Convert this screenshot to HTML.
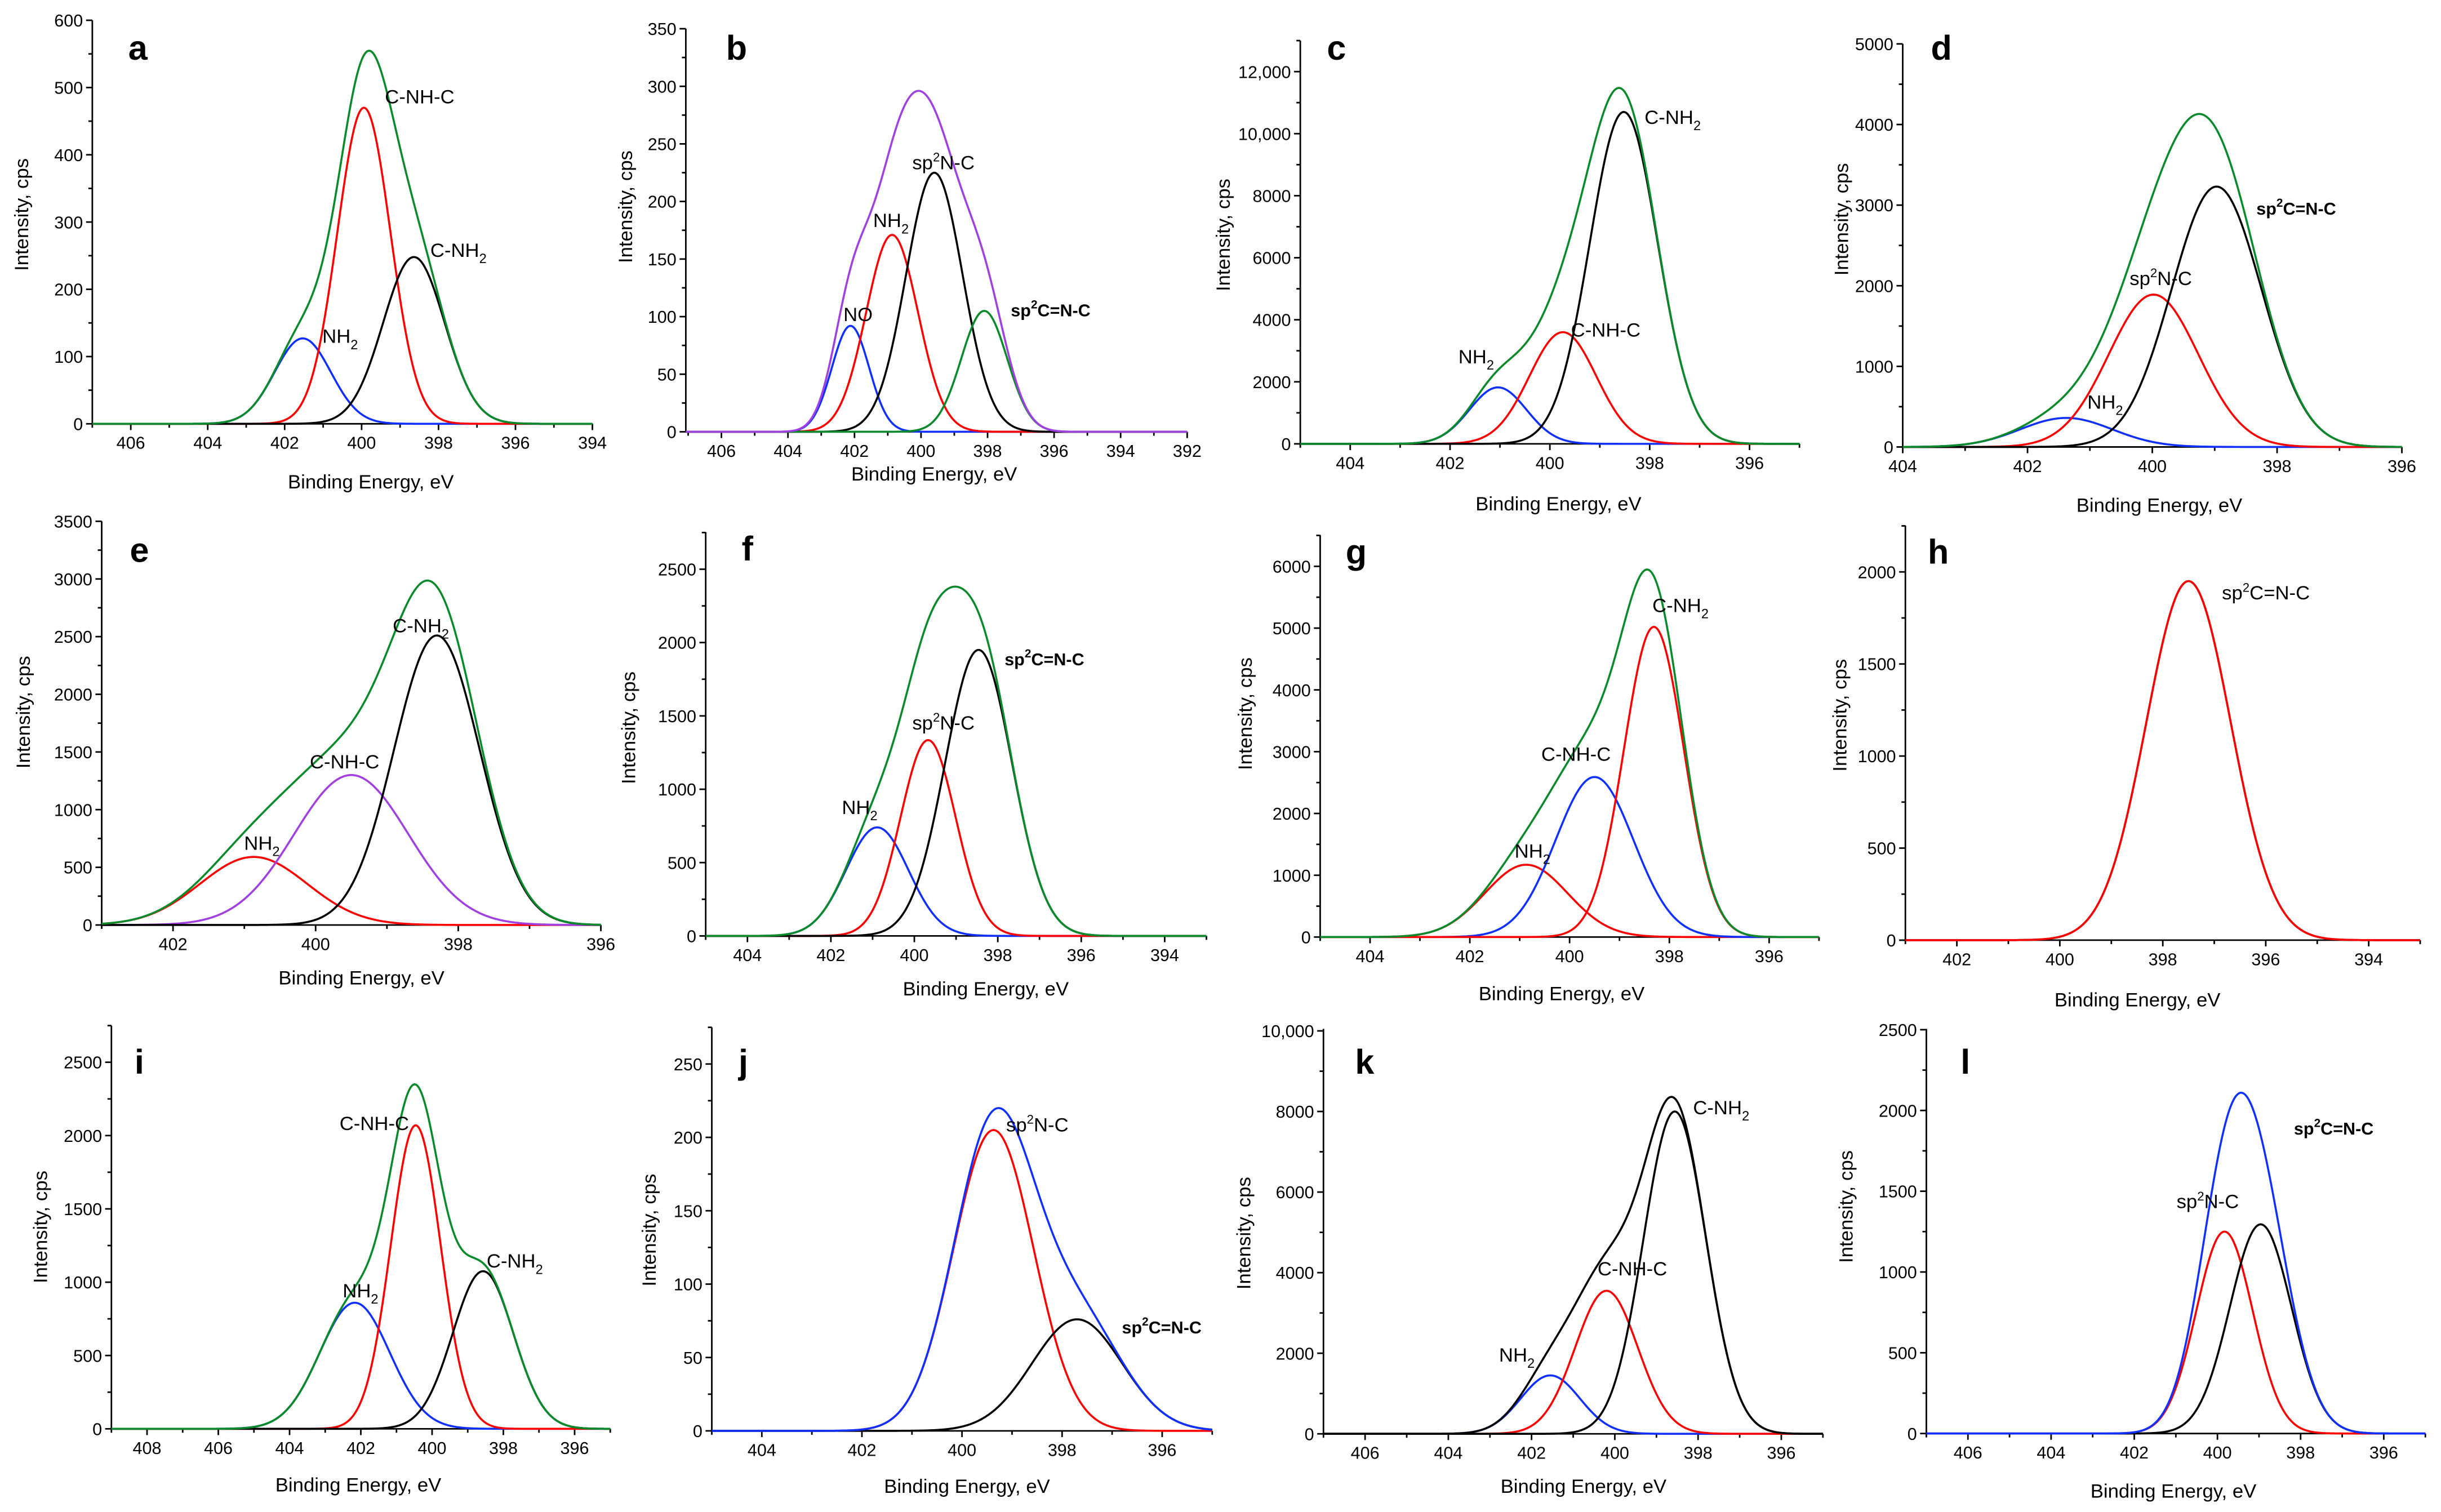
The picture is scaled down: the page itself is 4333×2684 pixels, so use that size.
<!DOCTYPE html>
<html><head><meta charset="utf-8"><style>
html,body{margin:0;padding:0;background:#fff;}
svg{display:block;}
text{font-family:"Liberation Sans",Arial,sans-serif;fill:#000;}
</style></head><body>
<svg id="fig" xmlns="http://www.w3.org/2000/svg" width="4333" height="2684" viewBox="0 0 1560 966"></svg>
<script>
// ---- data: peak centers (eV), heights (cps), sigmas (eV) ----
const aCenters=[401.53,399.94,398.64]; const aHeights=[127,470,248]; const aSigmas=[0.73,0.69,0.8];
const bCenters=[402.12,400.87,399.6,398.1]; const bHeights=[92,171,225,105]; const bSigmas=[0.56,0.78,0.85,0.69];
const cCenters=[401.04,399.74,398.52]; const cHeights=[1820,3600,10700]; const cSigmas=[0.57,0.67,0.68];
const dCenters=[401.38,399.98,398.97]; const dHeights=[360,1890,3230]; const dSigmas=[0.74,0.72,0.72];
const eCenters=[400.87,399.5,398.3]; const eHeights=[590,1300,2510]; const eSigmas=[0.75,0.8,0.6];
const fCenters=[400.89,399.67,398.46]; const fHeights=[740,1335,1950]; const fSigmas=[0.75,0.66,0.8];
const gCenters=[400.87,399.5,398.31]; const gHeights=[1170,2590,5020]; const gSigmas=[0.83,0.78,0.6];
const hCenters=[397.5]; const hHeights=[1950]; const hSigmas=[0.82];
const iCenters=[402.17,400.46,398.57]; const iHeights=[860,2070,1075]; const iSigmas=[0.98,0.7,0.85];
const jCenters=[399.37,397.7]; const jHeights=[205,76]; const jSigmas=[0.8,0.9];
const kCenters=[401.55,400.2,398.56]; const kHeights=[1450,3550,8000]; const kSigmas=[0.71,0.75,0.75];
const lCenters=[399.83,398.96]; const lHeights=[1250,1295]; const lSigmas=[0.68,0.74];
// tick label arrays
const xTicksA=[406,404,402,400,398,396,394];
const xTicksB=[406,404,402,400,398,396,394,392];
const xTicksC=[404,402,400,398,396];
const xTicksD=[404,402,400,398,396];
const xTicksE=[402,400,398,396];
const xTicksF=[404,402,400,398,396,394];
const xTicksG=[404,402,400,398,396];
const xTicksH=[402,400,398,396,394];
const xTicksI=[408,406,404,402,400,398,396];
const xTicksJ=[404,402,400,398,396];
const xTicksK=[406,404,402,400,398,396];
const xTicksL=[406,404,402,400,398,396];
const yTicksA=[0,100,200,300,400,500,600];
const yTicksB=[0,50,100,150,200,250,300,350];
const yTicksC=[0,2000,4000,6000,8000,10000,12000];
const yTicksD=[0,1000,2000,3000,4000,5000];
const yTicksE=[0,500,1000,1500,2000,2500,3000,3500];
const yTicksF=[0,500,1000,1500,2000,2500];
const yTicksG=[0,1000,2000,3000,4000,5000,6000];
const yTicksH=[0,500,1000,1500,2000];
const yTicksI=[0,500,1000,1500,2000,2500];
const yTicksJ=[0,50,100,150,200,250];
const yTicksK=[0,2000,4000,6000,8000,10000];
const yTicksL=[0,500,1000,1500,2000,2500];

const RED='#ff0000',BLUE='#1030ff',GREEN='#0a8a2a',PURPLE='#a040e0',BLACK='#000';
const panels=[
 {id:'a',L:59,R:378.6,T:12.8,B:270.7,x0:407,x1:394,ymax:600,xs:xTicksA,ys:yTicksA,ymin:50,c:aCenters,h:aHeights,s:aSigmas,cols:[BLUE,RED,BLACK],env:GREEN,
  labels:[['C-NH-C',246,66],['C-NH2',275,164],['NH2',206,219]],letter:[82,38],yt:[18,137],xt:[237,312],comma:true},
 {id:'b',L:438.3,R:758.7,T:18.2,B:275.8,x0:407.07,x1:392,ymax:350,xs:xTicksB,ys:yTicksB,ymin:25,c:bCenters,h:bHeights,s:bSigmas,cols:[BLUE,RED,BLACK,GREEN],env:PURPLE,
  labels:[['NO',539,205],['NH2',558,145],['sp2N-C',583,108],['sp2C=N-C',646,202,1]],letter:[464,38],yt:[404,132],xt:[597,307]},
 {id:'c',L:831,R:1150,T:25.8,B:283.5,x0:405,x1:395,ymax:13000,xs:xTicksC,ys:yTicksC,ymin:1000,c:cCenters,h:cHeights,s:cSigmas,cols:[BLUE,RED,BLACK],env:GREEN,
  labels:[['C-NH2',1051,79],['C-NH-C',1004,215],['NH2',932,232]],letter:[848,38],yt:[786,150],xt:[996,326],comma:true},
 {id:'d',L:1216,R:1535,T:27.9,B:285.5,x0:404,x1:396,ymax:5000,xs:xTicksD,ys:yTicksD,ymin:500,c:dCenters,h:dHeights,s:dSigmas,cols:[BLUE,RED,BLACK],env:GREEN,
  labels:[['sp2C=N-C',1442,137,1],['sp2N-C',1361,182],['NH2',1334,261]],letter:[1234,38],yt:[1181,140],xt:[1380,327]},
 {id:'e',L:65,R:384,T:333,B:591,x0:403,x1:396,ymax:3500,xs:xTicksE,ys:yTicksE,ymin:250,c:eCenters,h:eHeights,s:eSigmas,cols:[RED,PURPLE,BLACK],env:GREEN,
  labels:[['C-NH2',251,404],['C-NH-C',198,491],['NH2',156,543]],letter:[83,359],yt:[19,455],xt:[231,629]},
 {id:'f',L:451,R:771,T:340,B:598,x0:405,x1:393,ymax:2752,xs:xTicksF,ys:yTicksF,ymin:250,c:fCenters,h:fHeights,s:fSigmas,cols:[BLUE,RED,BLACK],env:GREEN,
  labels:[['sp2C=N-C',642,425,1],['sp2N-C',583,466],['NH2',538,520]],letter:[474,358],yt:[406,465],xt:[630,636]},
 {id:'g',L:843.7,R:1162.5,T:341.8,B:598.7,x0:405,x1:395,ymax:6506,xs:xTicksG,ys:yTicksG,ymin:500,c:gCenters,h:gHeights,s:gSigmas,cols:[RED,BLUE,RED],env:GREEN,
  labels:[['C-NH2',1056,391],['C-NH-C',985,486],['NH2',968,548]],letter:[860,360],yt:[800,456],xt:[998,639]},
 {id:'h',L:1217.7,R:1546.7,T:335.7,B:600.7,x0:403,x1:393,ymax:2252,xs:xTicksH,ys:yTicksH,ymin:250,c:hCenters,h:hHeights,s:hSigmas,cols:[RED],env:BLACK,envUnder:true,
  labels:[['sp2C=N-C',1420,383]],letter:[1232,360],yt:[1180,457],xt:[1366,643]},
 {id:'i',L:71.2,R:390,T:655.3,B:913,x0:409,x1:395,ymax:2750,xs:xTicksI,ys:yTicksI,ymin:250,c:iCenters,h:iHeights,s:iSigmas,cols:[BLUE,RED,BLACK],env:GREEN,
  labels:[['C-NH-C',217,722],['C-NH2',311,810],['NH2',219,829]],letter:[86,686],yt:[30,784],xt:[229,953]},
 {id:'j',L:454.9,R:774.7,T:656.4,B:914.3,x0:405,x1:395,ymax:275,xs:xTicksJ,ys:yTicksJ,ymin:25,c:jCenters,h:jHeights,s:jSigmas,cols:[RED,BLACK],env:BLUE,
  labels:[['sp2N-C',643,723],['sp2C=N-C',717,852,1]],letter:[472,686],yt:[419,786],xt:[618,954]},
 {id:'k',L:845.8,R:1165,T:657.4,B:916.2,x0:407,x1:395,ymax:10050,xs:xTicksK,ys:yTicksK,ymin:1000,c:kCenters,h:kHeights,s:kSigmas,cols:[BLUE,RED,BLACK],env:BLACK,
  labels:[['C-NH2',1082,712],['C-NH-C',1021,815],['NH2',958,870]],letter:[866,686],yt:[799,788],xt:[1012,954],comma:true},
 {id:'l',L:1231.1,R:1550,T:657.4,B:916,x0:407,x1:395,ymax:2505,xs:xTicksL,ys:yTicksL,ymin:250,c:lCenters,h:lHeights,s:lSigmas,cols:[RED,BLACK],env:BLUE,
  labels:[['sp2C=N-C',1466,725,1],['sp2N-C',1391,772]],letter:[1253,686],yt:[1184,771],xt:[1389,957]}
];
const NS='http://www.w3.org/2000/svg';
const svg=document.getElementById('fig');
function mk(tag,attrs,parent){const e=document.createElementNS(NS,tag);for(const k in attrs)e.setAttribute(k,attrs[k]);(parent||svg).appendChild(e);return e;}
function fmt(v,comma){return (comma&&v>=10000)?(v/1000)+',000':String(v);}
function gauss(x,c,h,s){return h*Math.exp(-0.5*((x-c)/s)*((x-c)/s));}
function addLabel(g,txt,x,y,bold){
  const t=mk('text',{x:x,y:y,'font-size':bold?11:12.5,'font-weight':bold?'bold':'normal'},g);
  
  
  const m=txt.match(/^(sp)2(.*)$/);
  if(m){ t.appendChild(document.createTextNode('sp'));
    const s=mk('tspan',{dy:-5,'font-size':bold?7.5:8},t);s.textContent='2';
    const r=mk('tspan',{dy:5},t);r.textContent=m[2]; return;}
  const n=txt.match(/^(.*NH)2$/);
  if(n){ t.appendChild(document.createTextNode(n[1]));
    const s=mk('tspan',{dy:4,'font-size':8.5},t);s.textContent='2'; return;}
  t.textContent=txt;
}
panels.forEach(p=>{
  const g=mk('g',{});
  
  
  const X=v=>p.L+(p.x0-v)/(p.x0-p.x1)*(p.R-p.L);
  const Y=v=>p.B-v/p.ymax*(p.B-p.T);
  const ax=mk('path',{d:`M${p.L},${p.T}V${p.B}H${p.R}`,stroke:'#000','stroke-width':1,fill:'none'},g);
  
  
  const lo=Math.ceil(Math.min(p.x0,p.x1)),hi=Math.floor(Math.max(p.x0,p.x1));
  for(let v=lo;v<=hi;v++){
    const major=p.xs.indexOf(v)>=0;
    mk('line',{x1:X(v),x2:X(v),y1:p.B,y2:p.B+(major?4:2.5),stroke:'#000','stroke-width':1},g);
  }
  p.xs.forEach(v=>{
    const t=mk('text',{x:X(v),y:p.B+16,'font-size':11,'text-anchor':'middle'},g);
    
    
    t.textContent=v;
  });
  for(let v=0;v<=p.ymax;v+=p.ymin){
    const major=p.ys.indexOf(v)>=0;
    mk('line',{x1:p.L,x2:p.L-(major?4:2.5),y1:Y(v),y2:Y(v),stroke:'#000','stroke-width':1},g);
  }
  p.ys.forEach(v=>{
    const t=mk('text',{x:p.L-6,y:Y(v)+4,'font-size':11,'text-anchor':'end'},g);
    
    
    t.textContent=fmt(v,p.comma);
  });
  const yt=mk('text',{x:p.yt[0],y:p.yt[1],'font-size':12.5,'text-anchor':'middle',transform:`rotate(-90 ${p.yt[0]} ${p.yt[1]})`},g);
  
  
  yt.textContent='Intensity, cps';
  const xt=mk('text',{x:p.xt[0],y:p.xt[1],'font-size':12.5,'text-anchor':'middle'},g);
  
  
  xt.textContent='Binding Energy, eV';
  const lt=mk('text',{x:p.letter[0],y:p.letter[1],'font-size':22,'font-weight':'bold'},g);
  
  
  lt.textContent=p.id;
  const N=400, xsArr=[];
  for(let i=0;i<=N;i++)xsArr.push(p.x0+(p.x1-p.x0)*i/N);
  const envPts=xsArr.map(x=>{let s=0;for(let k=0;k<p.c.length;k++)s+=gauss(x,p.c[k],p.h[k],p.s[k]);return X(x).toFixed(2)+','+Y(s).toFixed(2);});
  if(p.envUnder){
    const e=mk('polyline',{points:envPts.join(' '),fill:'none',stroke:p.env,'stroke-width':1.3},g);
    
    
  }
  for(let k=0;k<p.c.length;k++){
    const pts=xsArr.map(x=>X(x).toFixed(2)+','+Y(gauss(x,p.c[k],p.h[k],p.s[k])).toFixed(2));
    const pl=mk('polyline',{points:pts.join(' '),fill:'none',stroke:p.cols[k],'stroke-width':1.3},g);
    
    
  }
  if(!p.envUnder){
    const e=mk('polyline',{points:envPts.join(' '),fill:'none',stroke:p.env,'stroke-width':1.3},g);
    
    
  }
  p.labels.forEach(l=>addLabel(g,l[0],l[1],l[2],l[3]));
});
</script>
</body></html>
